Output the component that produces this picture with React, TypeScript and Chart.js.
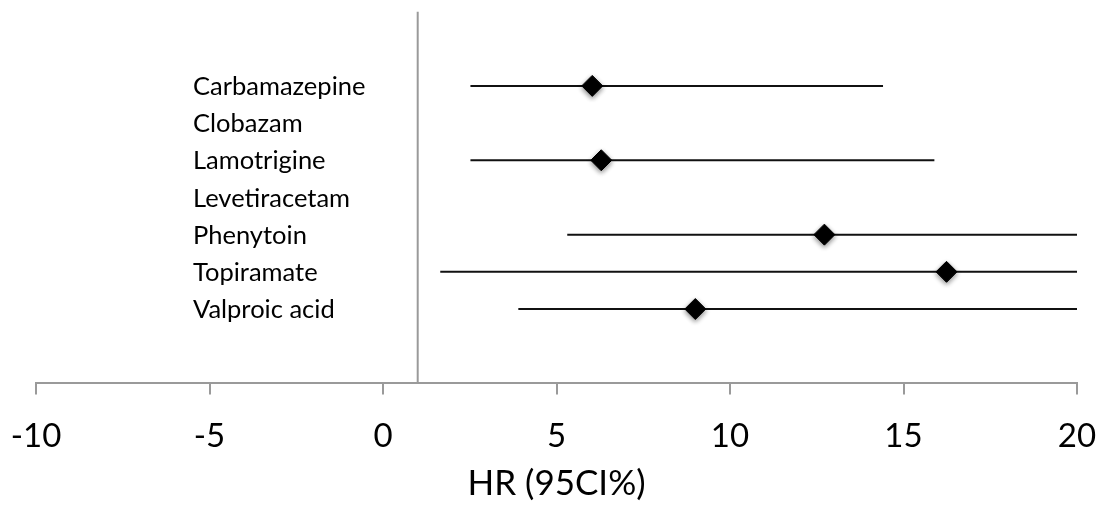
import React, { useEffect, useRef } from "react";
import { Chart, registerables } from "chart.js";

Chart.register(...registerables);

const drugs = [
  "Carbamazepine",
  "Clobazam",
  "Lamotrigine",
  "Levetiracetam",
  "Phenytoin",
  "Topiramate",
  "Valproic acid",
];
const hr: (number | null)[] = [6.03, null, 6.29, null, 12.72, 16.24, 9.0];
const ciLow: (number | null)[] = [2.52, null, 2.52, null, 5.31, 1.65, 3.9];
const ciHigh: (number | null)[] = [14.41, null, 15.89, null, 20, 20, 20];
const refValue = 1;
const xMin = -10;
const xMax = 20;
const xStep = 5;
const xTitle = "HR (95CI%)";

const FONT = "Lato, 'Open Sans', sans-serif";

const shadowPlugin = {
  id: "diamondShadow",
  beforeDatasetDraw(chart: any, args: any) {
    const ds = chart.data.datasets[args.index];
    if (ds && ds._shadow) {
      const ctx = chart.ctx;
      ctx.save();
      ctx.shadowColor = "rgba(0,0,0,0.45)";
      ctx.shadowBlur = 5;
      ctx.shadowOffsetX = 0;
      ctx.shadowOffsetY = 2;
    }
  },
  afterDatasetDraw(chart: any, args: any) {
    const ds = chart.data.datasets[args.index];
    if (ds && ds._shadow) {
      chart.ctx.restore();
    }
  },
};

// Draws the row names inside the plot, positioned through the y scale
const rowLabelPlugin = {
  id: "rowLabels",
  afterDatasetsDraw(chart: any, _args: any, opts: any) {
    const yScale = chart.scales.y;
    const ctx = chart.ctx;
    ctx.save();
    ctx.font = `${opts.size}px ${FONT}`;
    ctx.fillStyle = "#000000";
    ctx.textAlign = "left";
    ctx.textBaseline = "middle";
    const x = chart.chartArea.left + opts.offset;
    drugs.forEach((name, i) => {
      const y = yScale.getPixelForValue(i + 1) + opts.dy;
      ctx.fillText(name, x, y);
    });
    ctx.restore();
  },
};

export default function App() {
  const ref = useRef<HTMLCanvasElement | null>(null);

  useEffect(() => {
    document.body.style.margin = "0";
    const canvas = ref.current;
    if (!canvas) return;

    const rows = drugs.map((_, i) => i + 1);

    const ciDatasets: any[] = [];
    drugs.forEach((d, i) => {
      if (ciLow[i] == null || ciHigh[i] == null) return;
      ciDatasets.push({
        type: "line",
        label: d + " CI",
        data: [
          { x: ciLow[i], y: rows[i] },
          { x: ciHigh[i], y: rows[i] },
        ],
        borderColor: "#111111",
        borderWidth: 2,
        pointRadius: 0,
        fill: false,
        order: 2,
      });
    });

    const pointData = drugs
      .map((_, i) => (hr[i] == null ? null : { x: hr[i], y: rows[i] }))
      .filter((p) => p !== null);

    const chart = new Chart(canvas, {
      type: "scatter",
      data: {
        datasets: [
          {
            type: "line",
            label: "ref",
            data: [
              { x: refValue, y: -1 },
              { x: refValue, y: 9 },
            ],
            borderColor: "#9a9a9a",
            borderWidth: 2,
            pointRadius: 0,
            fill: false,
            order: 3,
          } as any,
          ...ciDatasets,
          {
            type: "scatter",
            label: "HR",
            data: pointData as any,
            pointStyle: "rectRot",
            pointRadius: 10.5,
            pointHoverRadius: 10.5,
            backgroundColor: "#000000",
            borderColor: "#000000",
            borderWidth: 1,
            order: 1,
            _shadow: true,
          } as any,
        ],
      },
      options: {
        animation: false,
        responsive: false,
        events: [],
        layout: { padding: { left: 36, right: 27, top: 7, bottom: 1 } },
        plugins: {
          legend: { display: false },
          tooltip: { enabled: false },
          title: { display: false },
          rowLabels: { size: 25.5, offset: 157, dy: 1 },
        } as any,
        scales: {
          x: {
            type: "linear",
            position: "bottom",
            min: xMin,
            max: xMax,
            afterFit: (axis: any) => {
              axis.paddingLeft = 0;
              axis.paddingRight = 0;
            },
            ticks: {
              stepSize: xStep,
              color: "#000000",
              font: { family: FONT, size: 33 },
              padding: 22,
              maxRotation: 0,
            },
            grid: {
              drawOnChartArea: false,
              drawTicks: true,
              tickLength: 11,
              color: "#9a9a9a",
              lineWidth: 2,
            },
            border: { display: true, color: "#9a9a9a", width: 2 },
            title: {
              display: true,
              text: xTitle,
              color: "#000000",
              font: { family: FONT, size: 35 },
              padding: { top: -15, bottom: 0 },
            },
          },
          y: {
            type: "linear",
            position: "left",
            reverse: true,
            min: -1,
            max: 9,
            afterFit: (axis: any) => {
              axis.width = 0;
              axis.paddingTop = 0;
              axis.paddingBottom = 0;
            },
            ticks: { display: false },
            grid: { display: false, drawTicks: false },
            border: { display: false },
          },
        },
      },
      plugins: [shadowPlugin, rowLabelPlugin],
    } as any);

    return () => {
      chart.destroy();
    };
  }, []);

  return (
    <div style={{ width: 1104, height: 506, background: "#ffffff" }}>
      <canvas ref={ref} width={1104} height={506} />
    </div>
  );
}
